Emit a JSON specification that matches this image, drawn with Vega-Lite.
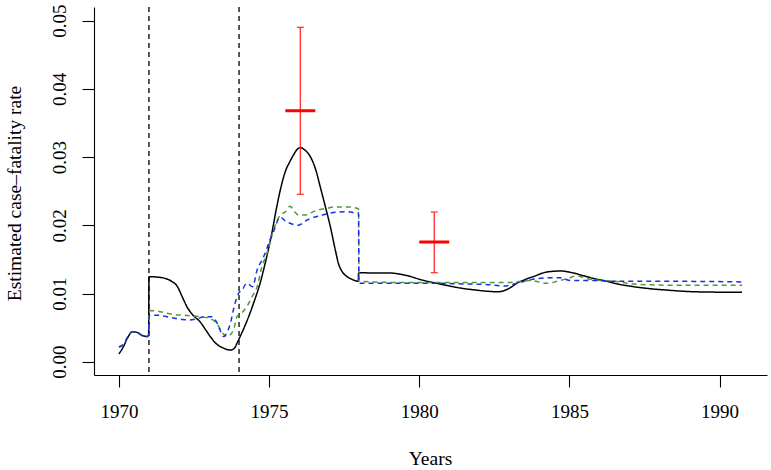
{
  "$schema": "https://vega.github.io/schema/vega-lite/v6.json",
  "width": 673,
  "height": 368,
  "autosize": {"type": "none"},
  "padding": {"left": 94, "top": 7, "right": 4, "bottom": 95},
  "background": "white",
  "config": {
    "view": {"stroke": null},
    "font": "Liberation Serif",
    "axis": {
      "domainColor": "black",
      "domainWidth": 1.1,
      "tickColor": "black",
      "tickWidth": 1.1,
      "tickSize": 12,
      "grid": false,
      "labelFont": "Liberation Serif",
      "labelFontSize": 19,
      "labelColor": "black",
      "titleFont": "Liberation Serif",
      "titleFontSize": 19.5,
      "titleFontWeight": "normal",
      "titleColor": "black",
      "labelFlush": false,
      "labelOverlap": false
    }
  },
  "datasets": {
    "curves": [
      {"series": "a", "year": 1970.00, "rate": 0.00113},
      {"series": "a", "year": 1970.15, "rate": 0.0022},
      {"series": "a", "year": 1970.30, "rate": 0.0036},
      {"series": "a", "year": 1970.45, "rate": 0.0044},
      {"series": "a", "year": 1970.60, "rate": 0.0043},
      {"series": "a", "year": 1970.80, "rate": 0.0038},
      {"series": "a", "year": 1970.95, "rate": 0.0037},
      {"series": "a", "year": 1970.99, "rate": 0.0039},
      {"series": "a", "year": 1971.00, "rate": 0.01246},
      {"series": "a", "year": 1971.30, "rate": 0.0124},
      {"series": "a", "year": 1971.55, "rate": 0.0122},
      {"series": "a", "year": 1971.75, "rate": 0.0118},
      {"series": "a", "year": 1971.95, "rate": 0.0110},
      {"series": "a", "year": 1972.10, "rate": 0.0096},
      {"series": "a", "year": 1972.26, "rate": 0.0081},
      {"series": "a", "year": 1972.45, "rate": 0.0069},
      {"series": "a", "year": 1972.71, "rate": 0.0058},
      {"series": "a", "year": 1972.90, "rate": 0.0046},
      {"series": "a", "year": 1973.04, "rate": 0.0037},
      {"series": "a", "year": 1973.25, "rate": 0.0026},
      {"series": "a", "year": 1973.48, "rate": 0.0020},
      {"series": "a", "year": 1973.71, "rate": 0.0017},
      {"series": "a", "year": 1973.85, "rate": 0.0020},
      {"series": "a", "year": 1973.93, "rate": 0.0027},
      {"series": "a", "year": 1974.10, "rate": 0.0043},
      {"series": "a", "year": 1974.32, "rate": 0.0066},
      {"series": "a", "year": 1974.50, "rate": 0.0088},
      {"series": "a", "year": 1974.70, "rate": 0.0115},
      {"series": "a", "year": 1974.90, "rate": 0.0150},
      {"series": "a", "year": 1975.09, "rate": 0.0188},
      {"series": "a", "year": 1975.25, "rate": 0.0226},
      {"series": "a", "year": 1975.43, "rate": 0.0262},
      {"series": "a", "year": 1975.55, "rate": 0.0280},
      {"series": "a", "year": 1975.70, "rate": 0.0294},
      {"series": "a", "year": 1975.81, "rate": 0.0303},
      {"series": "a", "year": 1975.93, "rate": 0.0311},
      {"series": "a", "year": 1976.04, "rate": 0.0314},
      {"series": "a", "year": 1976.20, "rate": 0.0310},
      {"series": "a", "year": 1976.37, "rate": 0.0301},
      {"series": "a", "year": 1976.55, "rate": 0.0282},
      {"series": "a", "year": 1976.70, "rate": 0.0257},
      {"series": "a", "year": 1976.87, "rate": 0.0228},
      {"series": "a", "year": 1977.04, "rate": 0.0198},
      {"series": "a", "year": 1977.20, "rate": 0.0165},
      {"series": "a", "year": 1977.31, "rate": 0.0144},
      {"series": "a", "year": 1977.45, "rate": 0.0131},
      {"series": "a", "year": 1977.59, "rate": 0.0125},
      {"series": "a", "year": 1977.75, "rate": 0.0121},
      {"series": "a", "year": 1977.97, "rate": 0.0118},
      {"series": "a", "year": 1977.98, "rate": 0.01305},
      {"series": "a", "year": 1978.50, "rate": 0.0130},
      {"series": "a", "year": 1979.04, "rate": 0.0130},
      {"series": "a", "year": 1979.40, "rate": 0.0128},
      {"series": "a", "year": 1979.70, "rate": 0.0125},
      {"series": "a", "year": 1980.00, "rate": 0.0121},
      {"series": "a", "year": 1980.37, "rate": 0.0117},
      {"series": "a", "year": 1980.90, "rate": 0.0112},
      {"series": "a", "year": 1981.37, "rate": 0.0108},
      {"series": "a", "year": 1981.90, "rate": 0.0105},
      {"series": "a", "year": 1982.37, "rate": 0.0103},
      {"series": "a", "year": 1982.60, "rate": 0.01025},
      {"series": "a", "year": 1982.81, "rate": 0.0104},
      {"series": "a", "year": 1983.05, "rate": 0.0109},
      {"series": "a", "year": 1983.25, "rate": 0.0115},
      {"series": "a", "year": 1983.50, "rate": 0.0120},
      {"series": "a", "year": 1983.81, "rate": 0.0125},
      {"series": "a", "year": 1984.25, "rate": 0.01315},
      {"series": "a", "year": 1984.70, "rate": 0.0133},
      {"series": "a", "year": 1985.14, "rate": 0.0130},
      {"series": "a", "year": 1985.47, "rate": 0.0126},
      {"series": "a", "year": 1985.81, "rate": 0.0122},
      {"series": "a", "year": 1986.14, "rate": 0.0119},
      {"series": "a", "year": 1986.60, "rate": 0.0114},
      {"series": "a", "year": 1987.14, "rate": 0.0110},
      {"series": "a", "year": 1987.70, "rate": 0.0107},
      {"series": "a", "year": 1988.25, "rate": 0.0105},
      {"series": "a", "year": 1989.14, "rate": 0.01026},
      {"series": "a", "year": 1990.00, "rate": 0.0102},
      {"series": "a", "year": 1990.75, "rate": 0.0102},

      {"series": "b", "year": 1970.00, "rate": 0.0021},
      {"series": "b", "year": 1970.15, "rate": 0.0025},
      {"series": "b", "year": 1970.30, "rate": 0.0037},
      {"series": "b", "year": 1970.45, "rate": 0.0044},
      {"series": "b", "year": 1970.60, "rate": 0.0043},
      {"series": "b", "year": 1970.80, "rate": 0.0038},
      {"series": "b", "year": 1970.95, "rate": 0.0037},
      {"series": "b", "year": 1970.99, "rate": 0.0040},
      {"series": "b", "year": 1971.00, "rate": 0.0070},
      {"series": "b", "year": 1971.04, "rate": 0.0075},
      {"series": "b", "year": 1971.30, "rate": 0.0074},
      {"series": "b", "year": 1971.60, "rate": 0.0071},
      {"series": "b", "year": 1971.90, "rate": 0.0069},
      {"series": "b", "year": 1972.37, "rate": 0.00675},
      {"series": "b", "year": 1972.87, "rate": 0.0065},
      {"series": "b", "year": 1973.10, "rate": 0.0062},
      {"series": "b", "year": 1973.26, "rate": 0.0056},
      {"series": "b", "year": 1973.45, "rate": 0.0042},
      {"series": "b", "year": 1973.60, "rate": 0.0037},
      {"series": "b", "year": 1973.82, "rate": 0.0047},
      {"series": "b", "year": 1973.93, "rate": 0.0066},
      {"series": "b", "year": 1974.10, "rate": 0.0072},
      {"series": "b", "year": 1974.26, "rate": 0.0081},
      {"series": "b", "year": 1974.43, "rate": 0.0095},
      {"series": "b", "year": 1974.60, "rate": 0.0110},
      {"series": "b", "year": 1974.76, "rate": 0.0139},
      {"series": "b", "year": 1974.93, "rate": 0.0159},
      {"series": "b", "year": 1975.09, "rate": 0.0185},
      {"series": "b", "year": 1975.25, "rate": 0.0205},
      {"series": "b", "year": 1975.37, "rate": 0.0215},
      {"series": "b", "year": 1975.55, "rate": 0.0220},
      {"series": "b", "year": 1975.70, "rate": 0.0228},
      {"series": "b", "year": 1975.85, "rate": 0.0220},
      {"series": "b", "year": 1975.98, "rate": 0.0215},
      {"series": "b", "year": 1976.20, "rate": 0.0215},
      {"series": "b", "year": 1976.37, "rate": 0.0218},
      {"series": "b", "year": 1976.60, "rate": 0.0222},
      {"series": "b", "year": 1976.93, "rate": 0.0225},
      {"series": "b", "year": 1977.20, "rate": 0.0227},
      {"series": "b", "year": 1977.59, "rate": 0.0227},
      {"series": "b", "year": 1977.93, "rate": 0.0225},
      {"series": "b", "year": 1977.98, "rate": 0.0224},
      {"series": "b", "year": 1977.99, "rate": 0.0118},
      {"series": "b", "year": 1978.50, "rate": 0.0117},
      {"series": "b", "year": 1979.50, "rate": 0.0116},
      {"series": "b", "year": 1980.50, "rate": 0.0116},
      {"series": "b", "year": 1981.50, "rate": 0.0116},
      {"series": "b", "year": 1982.30, "rate": 0.0116},
      {"series": "b", "year": 1982.80, "rate": 0.0116},
      {"series": "b", "year": 1983.25, "rate": 0.0117},
      {"series": "b", "year": 1983.70, "rate": 0.0119},
      {"series": "b", "year": 1984.25, "rate": 0.0115},
      {"series": "b", "year": 1984.60, "rate": 0.0118},
      {"series": "b", "year": 1985.00, "rate": 0.0123},
      {"series": "b", "year": 1985.25, "rate": 0.0126},
      {"series": "b", "year": 1985.50, "rate": 0.0123},
      {"series": "b", "year": 1985.81, "rate": 0.0120},
      {"series": "b", "year": 1986.50, "rate": 0.0118},
      {"series": "b", "year": 1987.14, "rate": 0.0114},
      {"series": "b", "year": 1988.50, "rate": 0.0112},
      {"series": "b", "year": 1990.75, "rate": 0.0112},

      {"series": "c", "year": 1970.00, "rate": 0.0022},
      {"series": "c", "year": 1970.15, "rate": 0.0025},
      {"series": "c", "year": 1970.30, "rate": 0.0037},
      {"series": "c", "year": 1970.45, "rate": 0.0044},
      {"series": "c", "year": 1970.60, "rate": 0.0043},
      {"series": "c", "year": 1970.80, "rate": 0.0038},
      {"series": "c", "year": 1970.95, "rate": 0.0037},
      {"series": "c", "year": 1970.99, "rate": 0.0040},
      {"series": "c", "year": 1971.00, "rate": 0.0064},
      {"series": "c", "year": 1971.04, "rate": 0.0068},
      {"series": "c", "year": 1971.30, "rate": 0.0068},
      {"series": "c", "year": 1971.60, "rate": 0.0066},
      {"series": "c", "year": 1971.82, "rate": 0.0064},
      {"series": "c", "year": 1972.10, "rate": 0.0062},
      {"series": "c", "year": 1972.37, "rate": 0.0061},
      {"series": "c", "year": 1972.60, "rate": 0.0063},
      {"series": "c", "year": 1972.87, "rate": 0.0066},
      {"series": "c", "year": 1973.10, "rate": 0.0066},
      {"series": "c", "year": 1973.25, "rate": 0.0058},
      {"series": "c", "year": 1973.38, "rate": 0.0045},
      {"series": "c", "year": 1973.48, "rate": 0.0037},
      {"series": "c", "year": 1973.60, "rate": 0.0043},
      {"series": "c", "year": 1973.71, "rate": 0.0056},
      {"series": "c", "year": 1973.85, "rate": 0.0083},
      {"series": "c", "year": 1973.98, "rate": 0.0100},
      {"series": "c", "year": 1974.10, "rate": 0.0105},
      {"series": "c", "year": 1974.26, "rate": 0.0115},
      {"series": "c", "year": 1974.45, "rate": 0.0110},
      {"series": "c", "year": 1974.60, "rate": 0.0134},
      {"series": "c", "year": 1974.82, "rate": 0.0154},
      {"series": "c", "year": 1975.00, "rate": 0.0175},
      {"series": "c", "year": 1975.15, "rate": 0.0191},
      {"series": "c", "year": 1975.37, "rate": 0.0212},
      {"series": "c", "year": 1975.55, "rate": 0.0206},
      {"series": "c", "year": 1975.70, "rate": 0.0203},
      {"series": "c", "year": 1975.98, "rate": 0.0200},
      {"series": "c", "year": 1976.20, "rate": 0.0206},
      {"series": "c", "year": 1976.37, "rate": 0.0210},
      {"series": "c", "year": 1976.70, "rate": 0.0214},
      {"series": "c", "year": 1977.04, "rate": 0.0218},
      {"series": "c", "year": 1977.59, "rate": 0.0220},
      {"series": "c", "year": 1977.93, "rate": 0.0218},
      {"series": "c", "year": 1977.98, "rate": 0.0218},
      {"series": "c", "year": 1977.99, "rate": 0.0115},
      {"series": "c", "year": 1978.50, "rate": 0.0115},
      {"series": "c", "year": 1979.50, "rate": 0.0115},
      {"series": "c", "year": 1980.50, "rate": 0.0115},
      {"series": "c", "year": 1981.50, "rate": 0.0114},
      {"series": "c", "year": 1982.30, "rate": 0.0113},
      {"series": "c", "year": 1982.80, "rate": 0.0111},
      {"series": "c", "year": 1983.25, "rate": 0.0115},
      {"series": "c", "year": 1983.70, "rate": 0.0120},
      {"series": "c", "year": 1984.25, "rate": 0.0123},
      {"series": "c", "year": 1984.70, "rate": 0.0123},
      {"series": "c", "year": 1985.03, "rate": 0.0119},
      {"series": "c", "year": 1985.80, "rate": 0.0119},
      {"series": "c", "year": 1986.50, "rate": 0.0118},
      {"series": "c", "year": 1988.00, "rate": 0.0118},
      {"series": "c", "year": 1990.75, "rate": 0.0117}
    ],
    "vlines": [{"v": 1971}, {"v": 1974}],
    "errs": [
      {"t": 1976.04, "est": 0.0368, "lo": 0.02455, "hi": 0.04903},
      {"t": 1980.5, "est": 0.01755, "lo": 0.01305, "hi": 0.02195}
    ]
  },
  "layer": [
    {
      "data": {"name": "vlines"},
      "mark": {"type": "rule", "color": "black", "strokeWidth": 1.3, "strokeDash": [5, 4]},
      "encoding": {
        "x": {
          "field": "v", "type": "quantitative",
          "scale": {"domain": [1969.17, 1991.58], "nice": false, "zero": false},
          "axis": {
            "values": [1970, 1975, 1980, 1985, 1990],
            "format": "d",
            "title": "Years",
            "labelBaseline": "alphabetic",
            "labelPadding": 30,
            "titleBaseline": "alphabetic",
            "titleX": 336,
            "titleY": 89
          }
        }
      }
    },
    {
      "data": {"name": "curves"},
      "mark": {"type": "line", "strokeWidth": 1.5, "interpolate": "monotone"},
      "encoding": {
        "x": {"field": "year", "type": "quantitative"},
        "y": {
          "field": "rate", "type": "quantitative",
          "scale": {"domain": [-0.00195, 0.05201], "nice": false, "zero": false},
          "axis": {
            "values": [0, 0.01, 0.02, 0.03, 0.04, 0.05],
            "format": ".2f",
            "title": "Estimated case–fatality rate",
            "labelAngle": 270,
            "labelAlign": "center",
            "labelBaseline": "middle",
            "labelPadding": 23,
            "titleAngle": 270,
            "titleBaseline": "alphabetic",
            "titleX": -74,
            "titleY": 186
          }
        },
        "color": {
          "field": "series", "type": "nominal",
          "scale": {"domain": ["a", "b", "c"], "range": ["#000000", "#4f9a3a", "#1a2ee6"]},
          "legend": null
        },
        "strokeDash": {
          "field": "series", "type": "nominal",
          "scale": {"domain": ["a", "b", "c"], "range": [[1, 0], [5, 4], [5, 4]]},
          "legend": null
        }
      }
    },
    {
      "data": {"name": "errs"},
      "mark": {"type": "rule", "color": "#ff2a2a", "strokeWidth": 1.3},
      "encoding": {
        "x": {"field": "t", "type": "quantitative"},
        "y": {"field": "lo", "type": "quantitative"},
        "y2": {"field": "hi"}
      }
    },
    {
      "data": {"name": "errs"},
      "mark": {"type": "tick", "orient": "horizontal", "color": "#ff2a2a", "size": 7, "thickness": 1.2, "opacity": 1},
      "encoding": {
        "x": {"field": "t", "type": "quantitative"},
        "y": {"field": "lo", "type": "quantitative"}
      }
    },
    {
      "data": {"name": "errs"},
      "mark": {"type": "tick", "orient": "horizontal", "color": "#ff2a2a", "size": 7, "thickness": 1.2, "opacity": 1},
      "encoding": {
        "x": {"field": "t", "type": "quantitative"},
        "y": {"field": "hi", "type": "quantitative"}
      }
    },
    {
      "data": {"name": "errs"},
      "mark": {"type": "tick", "orient": "horizontal", "color": "#ff0000", "size": 30, "thickness": 3, "opacity": 1},
      "encoding": {
        "x": {"field": "t", "type": "quantitative"},
        "y": {"field": "est", "type": "quantitative"}
      }
    }
  ]
}
